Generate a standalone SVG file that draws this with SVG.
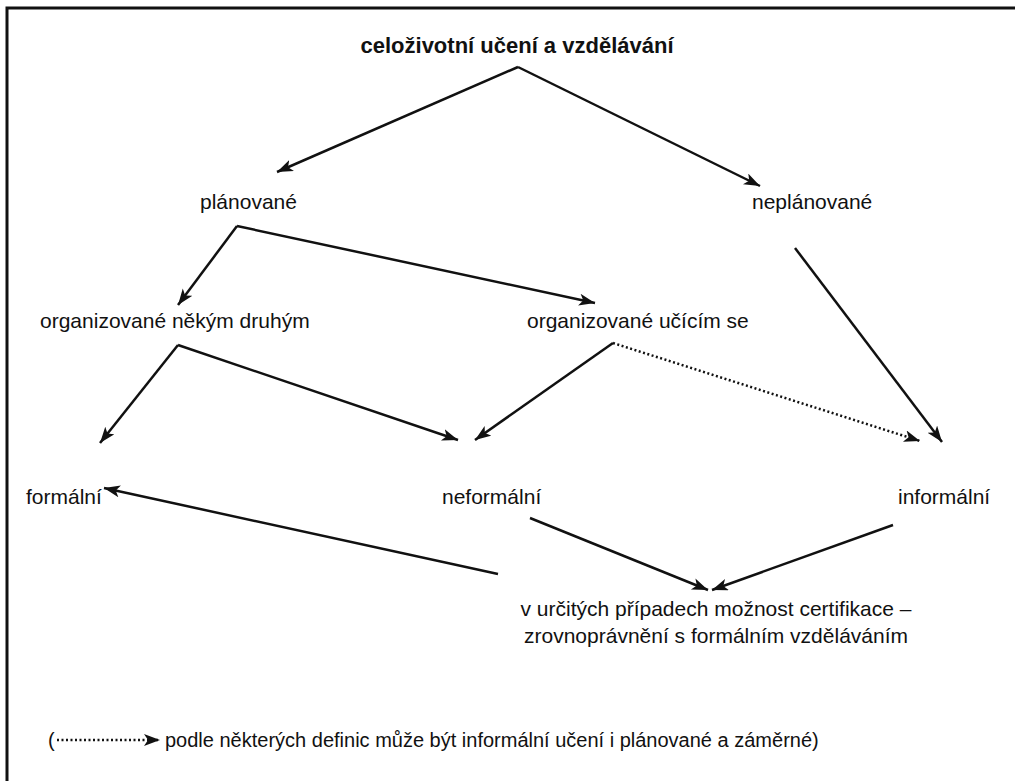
<svg xmlns="http://www.w3.org/2000/svg" width="1015" height="781" viewBox="0 0 1015 781">
<style>
text{font-family:"Liberation Sans",Arial,Helvetica,sans-serif;font-size:21px;fill:#111}
.title{font-size:22px;font-weight:bold}
.foot{font-size:20px}
.c{stroke:#111;stroke-width:2.5;fill:none;marker-end:url(#ah)}
.d{stroke-dasharray:2 2.5}
</style>
<defs>
<marker id="ah" markerUnits="userSpaceOnUse" markerWidth="18" markerHeight="14" refX="16" refY="6" orient="auto">
<path d="M0,0 L16,6 L0,12 L4,6 z" fill="#111"/>
</marker>
</defs>
<rect x="0" y="0" width="1015" height="781" fill="#fff"/>
<path d="M7,781 V8 H1015" stroke="#111" stroke-width="3" fill="none"/>
<g id="n-root"><text class="title" x="517" y="53" text-anchor="middle">celoživotní učení a vzdělávání</text></g>
<g id="n-planovane"><text x="200" y="209">plánované</text></g>
<g id="n-neplanovane"><text x="752" y="209">neplánované</text></g>
<g id="n-druhym"><text x="40" y="328">organizované někým druhým</text></g>
<g id="n-ucicim"><text x="527" y="328">organizované učícím se</text></g>
<g id="n-formalni"><text x="26" y="504">formální</text></g>
<g id="n-neformalni"><text x="442" y="504">neformální</text></g>
<g id="n-informalni"><text x="898" y="504">informální</text></g>
<g id="n-certifikace"><text x="716" y="616" text-anchor="middle">v určitých případech možnost certifikace –</text><text x="716" y="643" text-anchor="middle">zrovnoprávnění s formálním vzděláváním</text></g>
<g id="legend">
<text class="foot" x="48" y="747">(</text>
<path class="c d" d="M57,740 H160"/>
<text class="foot" x="165" y="747">podle některých definic může být informální učení i plánované a záměrné)</text>
</g>
<g id="connectors">
<path class="c" d="M518,67 L277,172"/>
<path class="c" d="M518,67 L760,186"/>
<path class="c" d="M237,226 L178,305"/>
<path class="c" d="M237,226 L595,303"/>
<path class="c" d="M795,248 L942,442"/>
<path class="c" d="M178,345 L100,443"/>
<path class="c" d="M178,345 L458,440"/>
<path class="c" d="M613,343 L475,440"/>
<path class="c d" d="M613,343 L920,441"/>
<path class="c" d="M498,574 L104,488"/>
<path class="c" d="M530,518 L708,590"/>
<path class="c" d="M893,525 L712,590"/>
</g>
</svg>
